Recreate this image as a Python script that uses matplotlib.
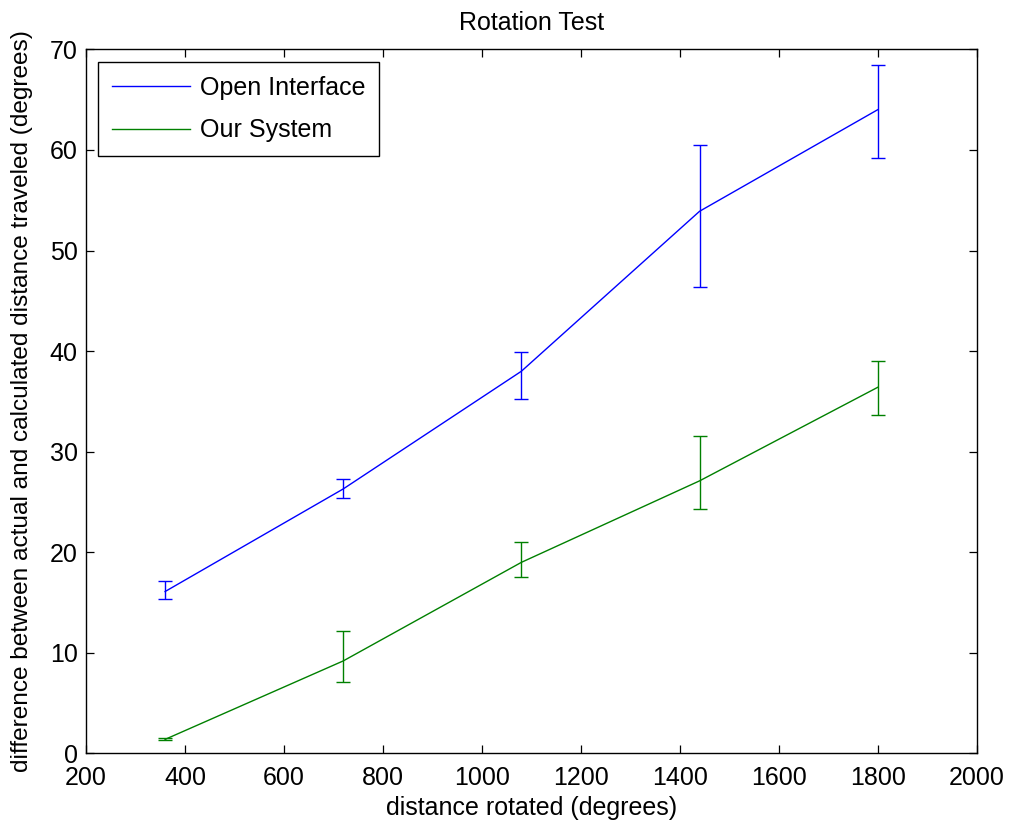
import matplotlib

matplotlib.use("Agg")

import matplotlib.pyplot as plt
import numpy as np

plt.rcParams["font.family"] = ["Liberation Sans", "DejaVu Sans"]

# distance rotated (degrees)
rotation = [360, 720, 1080, 1440, 1800]

# Open Interface: mean error and error-bar bounds
open_mean = [16.1, 26.3, 38.0, 53.9, 64.0]
open_low = [15.4, 25.4, 35.2, 46.4, 59.2]
open_high = [17.1, 27.3, 39.9, 60.5, 68.4]

# Our System: mean error and error-bar bounds
ours_mean = [1.4, 9.2, 19.0, 27.1, 36.4]
ours_low = [1.3, 7.1, 17.5, 24.3, 33.6]
ours_high = [1.5, 12.2, 21.0, 31.6, 39.0]


def yerr(mean, low, high):
    m = np.asarray(mean)
    return np.vstack([m - np.asarray(low), np.asarray(high) - m])


fig = plt.figure(figsize=(10.11, 8.23), dpi=100)
ax = fig.add_axes([0.085, 0.0845, 0.881, 0.8555])

eb1 = ax.errorbar(rotation, open_mean, yerr=yerr(open_mean, open_low, open_high),
                  color=(0, 0, 1), lw=1.0, capsize=5, capthick=1.0)
eb2 = ax.errorbar(rotation, ours_mean, yerr=yerr(ours_mean, ours_low, ours_high),
                  color=(0, 0.5, 0), lw=1.0, capsize=5, capthick=1.0)

ax.set_xlim(200, 2000)
ax.set_ylim(0, 70)
ax.set_xticks(np.arange(200, 2001, 200))
ax.set_yticks(np.arange(0, 71, 10))
ax.tick_params(direction="in", top=True, right=True, labelsize=18,
               length=6, width=0.9)
ax.tick_params(axis="x", pad=9)
ax.tick_params(axis="y", pad=6)
for s in ax.spines.values():
    s.set_linewidth(1.0)

ax.set_xlabel("distance rotated (degrees)", fontsize=18, labelpad=4)
ax.set_ylabel("difference between actual and calculated distance traveled (degrees)",
              fontsize=17.6, labelpad=12)
ax.set_title("Rotation Test", fontsize=18, pad=14)

leg = ax.legend(handles=[eb1[0], eb2[0]], labels=["Open Interface", "Our System"],
                loc="upper left", fontsize=18, fancybox=False,
                edgecolor="black", framealpha=1, borderaxespad=0.5,
                handlelength=3.1, handletextpad=0.4, borderpad=0.55,
                labelspacing=0.75)
leg.get_frame().set_linewidth(1.0)

fig.savefig("out.png", dpi=100)
